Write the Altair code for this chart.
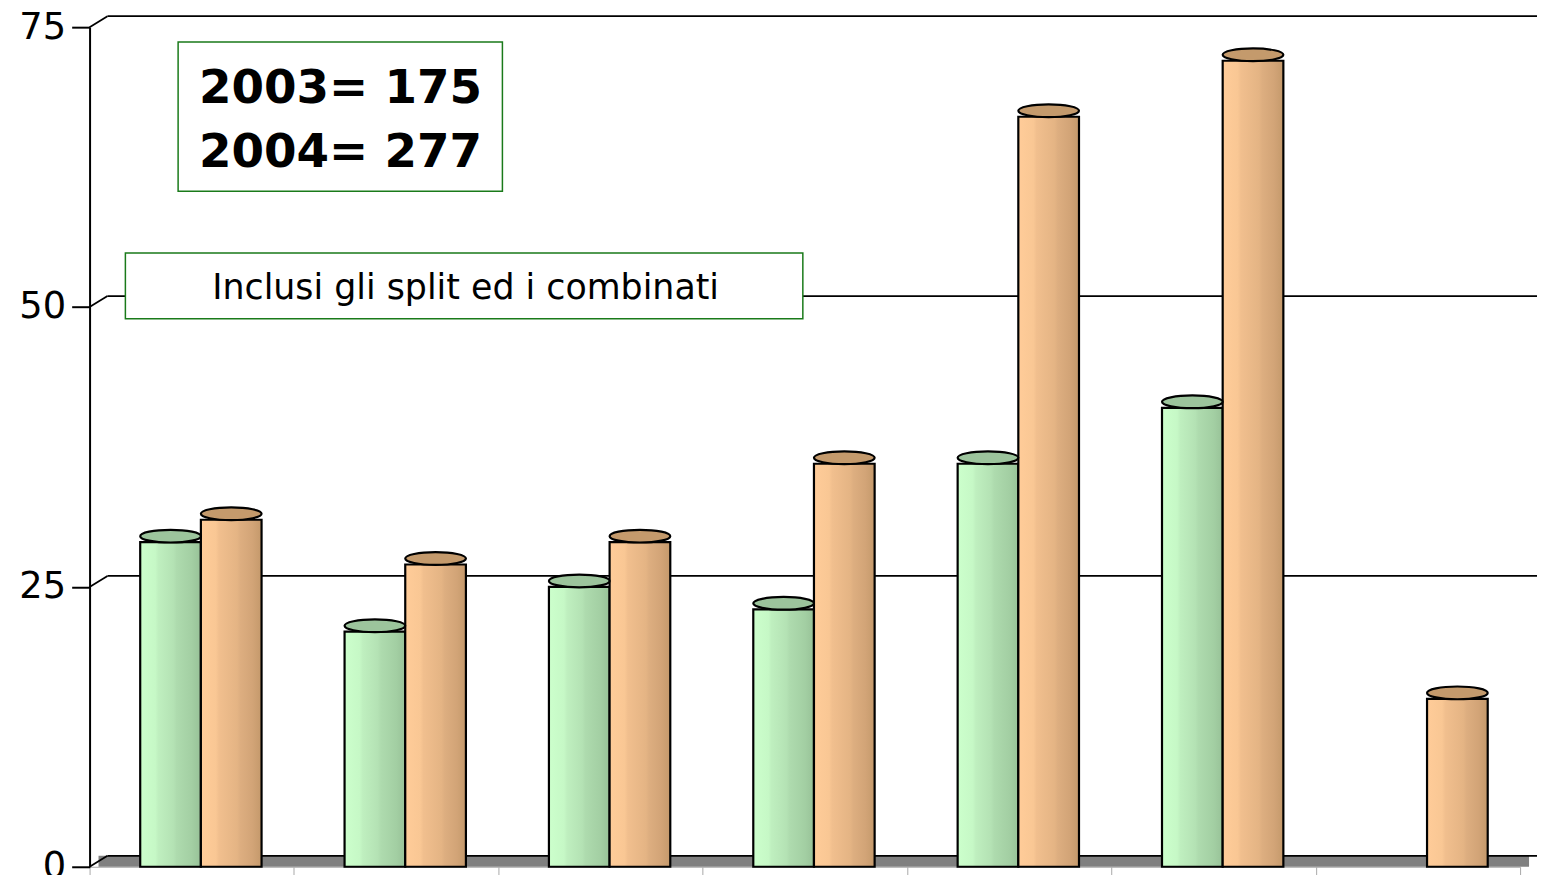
import altair as alt
import pandas as pd

# ---- data ----
categories = ["1", "2", "3", "4", "5", "6", "7"]
series_2003 = [29, 21, 25, 23, 36, 41, None]
series_2004 = [31, 27, 29, 36, 67, 72, 15]
years = ["2003", "2004"]
y_ticks = [0, 25, 50, 75]
totals_text = ["2003= 175", "2004= 277"]
note_text = "Inclusi gli split ed i combinati"

rows = []
for c, a, b in zip(categories, series_2003, series_2004):
    if a is not None:
        rows.append({"cat": c, "anno": "2003", "valore": a})
    if b is not None:
        rows.append({"cat": c, "anno": "2004", "valore": b})
df = pd.DataFrame(rows)
grid_df = pd.DataFrame({"valore": y_ticks})
one = pd.DataFrame({"k": [0]})

# ---- layout / style ----
W, H = 1438, 844
DX, DY = 18, -11       # 3D depth offset of back wall
SHIFT = 9
ELLIPSE = "M -1 0 A 1 0.21 0 1 1 1 0 A 1 0.21 0 1 1 -1 0 Z"
BAR_W = 61

yscale = alt.Scale(domain=[0, 75], nice=False, zero=True)
y_axis = alt.Axis(values=y_ticks, grid=False, title=None, domainColor="black",
                  domainWidth=2, tickColor="black", tickWidth=2, tickSize=18,
                  labelFont="DejaVu Sans", labelFontSize=37, labelColor="black",
                  labelPadding=6)
xscale = alt.Scale(domain=categories, paddingInner=0, paddingOuter=0)
x_axis = alt.Axis(labels=False, title=None, domainColor="#A8A8A8", domainWidth=1,
                  tickColor="#A8A8A8", tickWidth=1, tickSize=8, tickBand="extent")
# bars stand at mid depth: outer padding shifted to the right (align)
xoff_scale = alt.Scale(domain=years, paddingInner=0, paddingOuter=0.684, align=0.61)

Y = alt.Y("valore:Q", scale=yscale, axis=y_axis)
X = alt.X("cat:N", scale=xscale, axis=x_axis, sort=categories)
XO = alt.XOffset("anno:N", scale=xoff_scale)


def grad(stops):
    return alt.Gradient(gradient="linear", x1=0, x2=1, y1=0, y2=0,
                        stops=[alt.GradientStop(color=c, offset=o) for o, c in stops])


green = grad([(0, "#CCFFCC"), (0.25, "#C6F8C6"), (0.3, "#BFEFBF"), (0.55, "#B4E2B4"),
              (0.6, "#AEDBAE"), (0.85, "#A3CFA3"), (1, "#98C298")])
orange = grad([(0, "#FFCC99"), (0.25, "#F9C794"), (0.3, "#F1BF8E"), (0.6, "#E4B484"),
               (0.65, "#DDAE80"), (0.85, "#D2A477"), (1, "#C4996B")])
cap_colors = {"2003": "#9CC49C", "2004": "#C49A6C"}

floor = alt.Chart(one).mark_rect(color="#808080", y2Offset=DY).encode(
    x=alt.value(SHIFT), x2=alt.value(W + SHIFT),
    y=alt.datum(0, scale=yscale), y2=alt.datum(0))

back_grid = alt.Chart(grid_df).mark_rule(color="black", strokeWidth=1.8, yOffset=DY).encode(
    y=Y, x=alt.value(DX), x2=alt.value(W + DX))

diagonals = alt.Chart(grid_df).mark_rule(color="black", strokeWidth=1.8, y2Offset=DY).encode(
    y=Y, y2=alt.Y2("valore:Q"), x=alt.value(0), x2=alt.value(DX))

box1 = alt.Chart(one).mark_rect(fill="white", stroke="#1A7A1A", strokeWidth=1.5).encode(
    x=alt.value(89), x2=alt.value(415), y=alt.value(15), y2=alt.value(165))
box2 = alt.Chart(one).mark_rect(fill="white", stroke="#1A7A1A", strokeWidth=1.5).encode(
    x=alt.value(36), x2=alt.value(717), y=alt.value(227), y2=alt.value(293))

t1 = alt.Chart(one).mark_text(font="DejaVu Sans", fontSize=47, fontWeight="bold", color="black",
                              align="left", baseline="alphabetic").encode(
    x=alt.value(110), y=alt.value(76), text=alt.value(totals_text[0]))
t2 = alt.Chart(one).mark_text(font="DejaVu Sans", fontSize=47, fontWeight="bold", color="black",
                              align="left", baseline="alphabetic").encode(
    x=alt.value(110), y=alt.value(141), text=alt.value(totals_text[1]))
t3 = alt.Chart(one).mark_text(font="DejaVu Sans", fontSize=35, color="black",
                              align="center", baseline="alphabetic").encode(
    x=alt.value(378), y=alt.value(273), text=alt.value(note_text))

base = alt.Chart(df).encode(x=X, xOffset=XO, y=Y)

bars_g = base.transform_filter(alt.datum.anno == "2003").mark_bar(
    color=green, stroke="black", strokeWidth=2.2)
bars_o = base.transform_filter(alt.datum.anno == "2004").mark_bar(
    color=orange, stroke="black", strokeWidth=2.2)

caps_g = base.transform_filter(alt.datum.anno == "2003").mark_point(
    shape=ELLIPSE, size=BAR_W * BAR_W, filled=True, fill=cap_colors["2003"], stroke="black",
    strokeWidth=2.2, opacity=1, yOffset=-6)
caps_o = base.transform_filter(alt.datum.anno == "2004").mark_point(
    shape=ELLIPSE, size=BAR_W * BAR_W, filled=True, fill=cap_colors["2004"], stroke="black",
    strokeWidth=2.2, opacity=1, yOffset=-6)

chart = alt.layer(
    floor, back_grid, diagonals, box1, box2, t1, t2, t3,
    bars_g, bars_o, caps_g, caps_o
).properties(
    width=W, height=H,
    padding={"left": 82, "top": 17, "right": 17, "bottom": 6},
    autosize=alt.AutoSizeParams(type="none"),
).configure_view(stroke=None)

chart.save("out.html", embed_options={"renderer": "svg", "actions": False})
